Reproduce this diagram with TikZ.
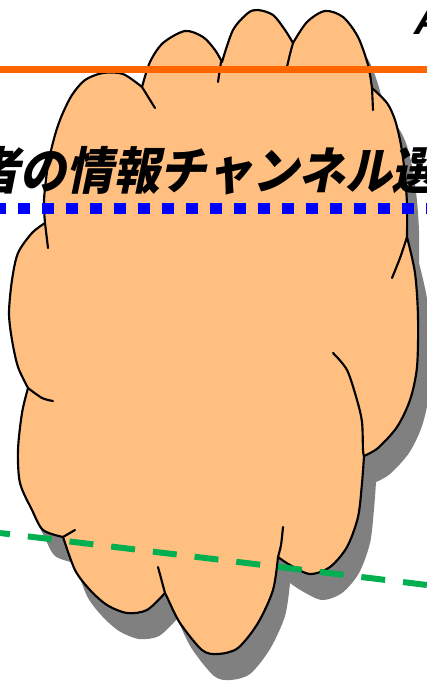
\documentclass[tikz,border=0pt]{standalone}
\usepackage{fontspec}
\newfontfamily\cjkfont[FakeSlant=0.22]{Noto Sans CJK JP}
\newfontfamily\latfont[FakeSlant=0.22]{Liberation Sans}
\definecolor{cloudfill}{RGB}{255,191,128}
\definecolor{shadowgray}{RGB}{128,128,128}
\definecolor{lineorange}{RGB}{255,102,0}
\definecolor{lineblue}{RGB}{0,0,255}
\definecolor{linegreen}{RGB}{0,176,80}
\tikzset{
  cloudedge/.style={line width=1.6pt, line join=round, line cap=round},
  orangeline/.style={lineorange, line width=5.3pt},
  blueline/.style={lineblue, line width=8.3pt, dash pattern=on 9pt off 9pt, dash phase=4.5pt},
  greenline/.style={linegreen, line width=4.5pt, dash pattern=on 18pt off 13.5pt, dash phase=10.5pt},
}
\newcommand\cloudpath{plot[smooth] coordinates {(45,223) (44,200) (48,165) (55,135) (62,115) (72,95) (85,80) (103,73) (123,74) (142,87)}
 -- plot[smooth] coordinates {(142,87) (150,62) (163,43) (185,31) (203,37) (215,50) (222,62)}
 -- plot[smooth] coordinates {(222,62) (233,30) (248,13) (258,10) (273,15) (285,30) (293,43)}
 -- plot[smooth] coordinates {(293,43) (307,22) (325,11) (343,17) (358,37) (368,65) (372,88)}
 -- plot[smooth] coordinates {(372,88) (387,103) (395,120) (401,145) (405,175) (407,205) (407,237)}
 -- plot[smooth] coordinates {(407,237) (415,273) (418,317) (417,367) (410,400) (397,427) (378,448) (364,456)}
 -- plot[smooth] coordinates {(364,456) (362,483) (358,517) (347,547) (330,567) (310,574) (290,565) (278,557)}
 -- plot[smooth] coordinates {(278,557) (273,590) (258,623) (238,648) (218,654) (202,650) (180,623) (167,597) (165,593)}
 -- plot[smooth] coordinates {(165,593) (147,610) (127,613) (107,605) (90,590) (75,570) (63,537)}
 -- plot[smooth] coordinates {(63,537) (43,530) (32,510) (20,483) (18,450) (22,413) (28,388)}
 -- plot[smooth] coordinates {(28,388) (18,367) (12,340) (9,313) (12,280) (18,253) (32,233) (45,223)}
 -- cycle}
\begin{document}
\begin{tikzpicture}[x=0.75pt,y=-0.75pt]
\useasboundingbox (0,0) rectangle (427,681);
\clip (0,0) rectangle (427,681);
\fill[white] (0,0) rectangle (427,681);
% shadow
\begin{scope}[shift={(12,26)}]
  \fill[shadowgray] \cloudpath;
\end{scope}
% cloud
\fill[cloudfill] \cloudpath;
\draw[cloudedge] \cloudpath;
% inner strokes of the cloud
\draw[cloudedge] (142,87) -- (155,108);
\draw[cloudedge] (221,62) -- (218,82);
\draw[cloudedge] plot[smooth] coordinates {(293,43) (290,54) (287,67)};
\draw[cloudedge] (372,88) -- (373,110);
\draw[cloudedge] plot[smooth] coordinates {(407,237) (400,258) (392,278)};
\draw[cloudedge] plot[smooth] coordinates {(333,353) (347,370) (357,400) (362,422) (363,450) (364,456)};
\draw[cloudedge] plot[smooth] coordinates {(283,527) (281,545) (278,557)};
\draw[cloudedge] (165,593) -- (158,567);
\draw[cloudedge] (63,537) -- (75,530);
\draw[cloudedge] plot[smooth] coordinates {(28,388) (42,398) (53,401)};
\draw[cloudedge] (45,223) -- (48,248);
% lines
\coordinate (oL) at (0,69.5);
\coordinate (oR) at (427,69.5);
\draw[orangeline] (oL) -- (oR);
\node[anchor=base west, inner sep=0pt, font=\cjkfont\bfseries\fontsize{35}{42}\selectfont, yscale=1.08] (title) at (-27,189) {者の情報チャンネル選};
\coordinate (bL) at (0,208.5);
\coordinate (bR) at (427,208.5);
\draw[blueline] (bL) -- (bR);
\coordinate (gL) at (0,533);
\coordinate (gR) at (427,585);
\draw[greenline] (gL) -- (gR);
\node[anchor=base west, inner sep=0pt, font=\latfont\bfseries\fontsize{31}{34}\selectfont] (letterA) at (412,35) {A};
\end{tikzpicture}
\end{document}
